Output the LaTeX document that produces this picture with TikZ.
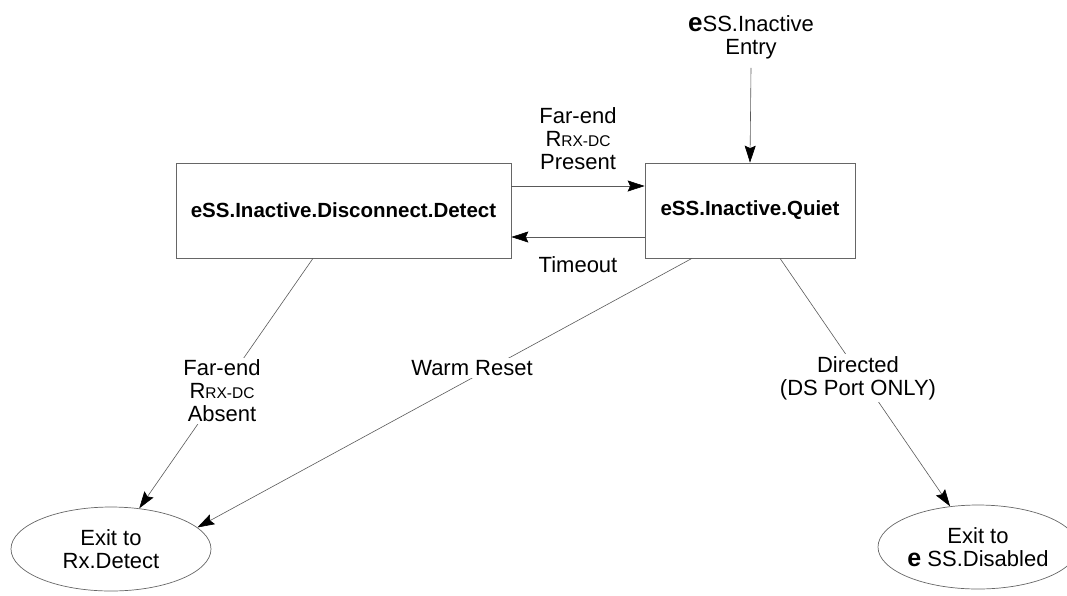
\documentclass[tikz,border=0pt]{standalone}
\usepackage{fontspec}
\setmainfont{Liberation Sans}
\usetikzlibrary{arrows.meta,shapes.geometric}
\newcommand{\lbl}{\fontsize{22}{23}\selectfont}
\newcommand{\rrxdc}{R{\fontsize{15.5}{15}\selectfont RX-DC}}
\begin{document}
\begin{tikzpicture}[x=1pt,y=-1pt,
  statebox/.style={draw=black!60,line width=0.7pt,rectangle,inner sep=0pt,
    font=\bfseries\fontsize{20.5}{22}\selectfont},
  exitnode/.style={draw=black!60,line width=0.7pt,ellipse,inner sep=0pt,
    minimum width=200pt,minimum height=84pt,align=center,font=\lbl},
  lab/.style={align=center,font=\lbl,fill=white,inner sep=2pt},
  conn/.style={draw=black!65,line width=0.6pt,
    -{Stealth[length=17pt,width=11pt,inset=2.5pt,black]}}]
\useasboundingbox (0,0) rectangle (1067,595);
\node[statebox,minimum width=335pt,minimum height=95pt] (ldd) at (343.5,210.5) {eSS.Inactive.Disconnect.Detect};
\node[statebox,minimum width=210pt,minimum height=95pt] (quiet) at (750,210.5) {eSS.Inactive.Quiet};
\node[exitnode] (rx) at (111,549) {Exit to\\Rx.Detect};
\node[exitnode] (dis) at (978,547) {Exit to\\{\bfseries\fontsize{25}{23}\selectfont e} SS.Disabled};
\node[align=center,font=\lbl,inner sep=1pt] (entry) at (751,37) {{\bfseries\fontsize{26}{23}\selectfont e}SS.Inactive\\Entry};
\draw[conn] ([yshift=-8pt]entry.south) -- (quiet.north);
\draw[conn] ([yshift=24.5pt]ldd.east) -- ([yshift=24.5pt]quiet.west);
\draw[conn] ([yshift=-26.5pt]quiet.west) -- ([yshift=-26.5pt]ldd.east);
\node[font=\lbl,align=center] (present) at (578,139) {Far-end\\\rrxdc\\Present};
\node[font=\lbl] (timeout) at (578,265) {Timeout};
\draw[conn] ([xshift=-30.5pt]ldd.south) -- (rx);
\draw[conn] ([xshift=-58pt]quiet.south) -- (rx.14);
\draw[conn] ([xshift=30pt]quiet.south) -- (dis);
\node[lab] (absent) at (222,391) {Far-end\\\rrxdc\\Absent};
\node[lab] (warm) at (472,368) {Warm Reset};
\node[lab] (directed) at (858,378) {Directed\\(DS Port ONLY)};
\end{tikzpicture}
\end{document}
